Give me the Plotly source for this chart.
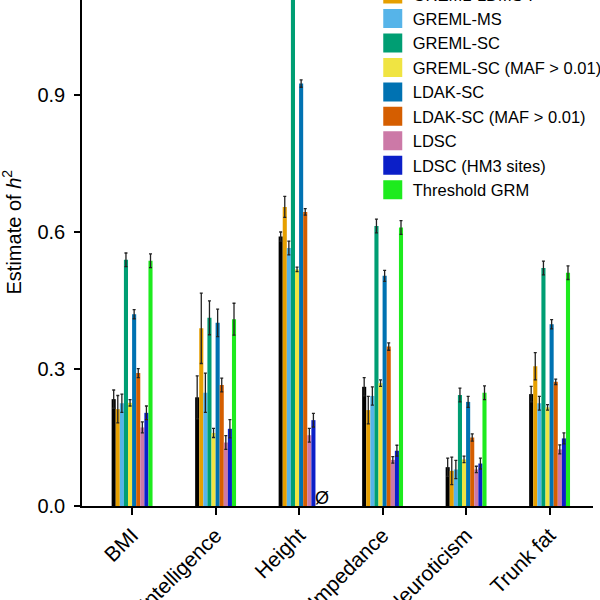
import plotly.graph_objects as go

# Trait categories on the x axis
traits = ["BMI", "Intelligence", "Height", "Impedance", "Neuroticism", "Trunk fat"]

# Method names (legend order) and bar colours
methods = [
    "GREML-LDMS-R",
    "GREML-LDMS-I",
    "GREML-MS",
    "GREML-SC",
    "GREML-SC (MAF > 0.01)",
    "LDAK-SC",
    "LDAK-SC (MAF > 0.01)",
    "LDSC",
    "LDSC (HM3 sites)",
    "Threshold GRM",
]
colors = [
    "#000000", "#E69F00", "#56B4E9", "#009E73", "#F0E442",
    "#0072B2", "#D55E00", "#CC79A7", "#0B1FC8", "#1EEB1E",
]

# h2 estimates per method, one value per trait
ldms_r = [0.234, 0.238, 0.590, 0.261, 0.085, 0.245]
ldms_i = [0.212, 0.389, 0.655, 0.210, 0.077, 0.306]
greml_ms = [0.225, 0.248, 0.565, 0.241, 0.080, 0.225]
greml_sc = [0.539, 0.412, 1.220, 0.613, 0.243, 0.521]
greml_sc_maf = [0.226, 0.160, 0.518, 0.269, 0.102, 0.216]
ldak_sc = [0.420, 0.401, 0.925, 0.504, 0.228, 0.398]
ldak_sc_maf = [0.291, 0.265, 0.644, 0.349, 0.150, 0.272]
ldsc = [0.172, 0.139, 0.155, 0.101, 0.080, 0.124]
ldsc_hm3 = [0.204, 0.169, 0.188, 0.121, 0.093, 0.148]
threshold = [0.537, 0.409, None, 0.610, 0.248, 0.511]

# standard errors
ldms_r_se = [0.020, 0.047, 0.010, 0.020, 0.020, 0.017]
ldms_i_se = [0.030, 0.077, 0.023, 0.030, 0.030, 0.030]
greml_ms_se = [0.020, 0.043, 0.015, 0.020, 0.020, 0.015]
greml_sc_se = [0.015, 0.037, 0.020, 0.015, 0.015, 0.015]
greml_sc_maf_se = [0.007, 0.010, 0.005, 0.007, 0.007, 0.006]
ldak_sc_se = [0.010, 0.030, 0.008, 0.012, 0.012, 0.010]
ldak_sc_maf_se = [0.010, 0.015, 0.007, 0.008, 0.008, 0.006]
ldsc_se = [0.012, 0.015, 0.015, 0.007, 0.007, 0.010]
ldsc_hm3_se = [0.015, 0.020, 0.015, 0.012, 0.012, 0.012]
threshold_se = [0.015, 0.035, 0, 0.015, 0.015, 0.015]

values = [ldms_r, ldms_i, greml_ms, greml_sc, greml_sc_maf,
          ldak_sc, ldak_sc_maf, ldsc, ldsc_hm3, threshold]
errors = [ldms_r_se, ldms_i_se, greml_ms_se, greml_sc_se, greml_sc_maf_se,
          ldak_sc_se, ldak_sc_maf_se, ldsc_se, ldsc_hm3_se, threshold_se]

FONT = "Liberation Sans, Arial, Helvetica, sans-serif"

fig = go.Figure()

for name, color, y, se in zip(methods, colors, values, errors):
    fig.add_trace(
        go.Bar(
            x=traits,
            y=y,
            name=name,
            marker=dict(color=color, line=dict(width=0)),
            error_y=dict(type="data", array=se, color="#222222",
                         thickness=1.3, width=1.5),
            showlegend=False,
        )
    )
    # legend-only entry so the swatch can be a big square
    fig.add_trace(
        go.Scatter(
            x=[None],
            y=[None],
            mode="markers",
            name=name,
            marker=dict(symbol="square", size=16, color=color,
                        line=dict(width=3, color=color)),
        )
    )

# height has no threshold GRM estimate
fig.add_annotation(
    x=2.27, y=0, xref="x", yref="y", text="Ø", showarrow=False,
    yanchor="bottom", yshift=-4,
    font=dict(size=18, family=FONT, color="black"),
)

# y axis title
fig.add_annotation(
    x=-0.138, y=0.5415, xref="paper", yref="paper",
    xanchor="center", yanchor="middle",
    text="Estimate of <i>h</i><sup>2</sup>", textangle=-90, showarrow=False,
    font=dict(size=20, family=FONT, color="black"),
)

fig.update_layout(
    width=600,
    height=600,
    margin=dict(l=82, r=7, t=0, b=94, autoexpand=False),
    paper_bgcolor="white",
    plot_bgcolor="white",
    barmode="group",
    bargap=0.51,
    bargroupgap=0,
    font=dict(family=FONT, color="black"),
    legend=dict(
        x=0.569, y=1.094, xanchor="left", yanchor="top",
        font=dict(size=16.5, family=FONT, color="black"),
        bgcolor="rgba(0,0,0,0)",
        tracegroupgap=0,
        maxheight=590,
        itemclick=False,
    ),
    xaxis=dict(
        range=[-0.6, 5.52],
        showline=True, linecolor="black", linewidth=1.5,
        ticks="outside", ticklen=7, tickwidth=1.5, tickcolor="black",
        tickangle=-45,
        tickfont=dict(size=21, family=FONT, color="black"),
        showgrid=False, zeroline=False,
    ),
    yaxis=dict(
        range=[0, 1.108],
        tickvals=[0, 0.3, 0.6, 0.9],
        tickformat=".1f",
        showline=True, linecolor="black", linewidth=1.5,
        ticks="outside", ticklen=6, tickwidth=1.5, tickcolor="black",
        ticklabelstandoff=5,
        tickfont=dict(size=20, family=FONT, color="black"),
        showgrid=False, zeroline=False,
    ),
)

# drop the default page margin so the figure sits at the window corner
fig.write_html(
    "out.html",
    config={"displayModeBar": False},
    post_script="document.body.style.margin='0';",
)
